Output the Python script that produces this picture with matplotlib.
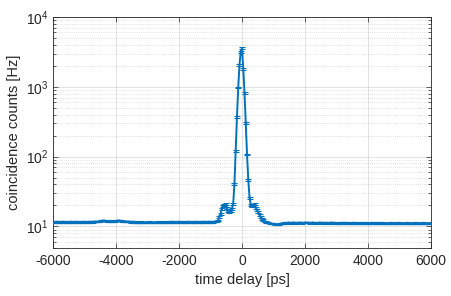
import numpy as np
import matplotlib
matplotlib.use("Agg")
import matplotlib.pyplot as plt
from matplotlib.ticker import LogLocator, NullFormatter

plt.rcParams['font.family'] = ['Liberation Sans', 'DejaVu Sans']
plt.rcParams['mathtext.fontset'] = 'custom'
plt.rcParams['mathtext.rm'] = 'Liberation Sans'
plt.rcParams['mathtext.it'] = 'Liberation Sans'
plt.rcParams['axes.unicode_minus'] = False

# ---- data (40 ps bins) ----
time_start_ps = -6000
time_stop_ps = 6000
bin_ps = 40

counts_left_base = [
    11.6, 11.5, 11.6, 11.7, 11.5, 11.6, 11.5, 11.6, 11.7, 11.6,
    11.5, 11.6, 11.6, 11.5, 11.7, 11.6, 11.5, 11.6, 11.6, 11.7,
    11.5, 11.6, 11.6, 11.5, 11.6, 11.7, 11.6, 11.5, 11.6, 11.7,
    11.6, 11.7, 11.6, 11.7, 11.8, 11.7, 11.8, 11.9, 12.0, 12.1,
    12.2, 12.1, 12.0, 11.9, 11.8, 11.9, 12.0, 11.9, 11.8, 11.9,
    12.0, 12.1, 12.2, 12.1, 12.0, 11.9, 11.8, 11.9, 11.8, 11.7,
    11.8, 11.7, 11.6, 11.7, 11.6, 11.5, 11.6, 11.5, 11.4, 11.5,
    11.6, 11.5, 11.4, 11.5, 11.4, 11.5, 11.6, 11.5, 11.4, 11.5,
    11.5, 11.4, 11.5, 11.6, 11.5, 11.4, 11.5, 11.6, 11.5, 11.4,
    11.5, 11.6, 11.5, 11.6, 11.7, 11.6, 11.5, 11.6, 11.5, 11.6,
    11.7, 11.6, 11.5, 11.6, 11.5, 11.6, 11.5, 11.6, 11.7, 11.6,
    11.5, 11.6, 11.5, 11.6, 11.7, 11.6, 11.5, 11.6, 11.5, 11.6,
    11.7, 11.6, 11.5, 11.6, 11.7, 11.6, 11.5, 11.6, 11.7, 11.8,
]

counts_peak = [
    11.7, 12.2, 13.6, 15.2, 17.9, 19.5, 20.5, 20.7, 18.5, 16.6,
    16.3, 16.9, 17.9, 21.2, 40.7, 122, 369, 977, 2060, 3190,
    3575,
    1790, 813, 303, 107, 46, 25.8, 20.5, 19.8, 20.5, 21.0,
    18.5, 17.0, 16.0, 14.5, 13.5, 12.9, 12.3, 11.9, 11.6, 11.4,
]

counts_right_base = [
    11.3, 11.2, 11.1, 11.0, 10.9, 10.8, 10.8, 10.7, 10.8, 10.9, 11.0, 11.1,
    11.2, 11.3, 11.2, 11.3, 11.4, 11.3, 11.2, 11.3, 11.4, 11.3, 11.2, 11.3,
    11.3, 11.4, 11.3, 11.2, 11.3, 11.4, 11.3, 11.4, 11.3, 11.2, 11.3, 11.4,
    11.3, 11.2, 11.3, 11.2, 11.3, 11.4, 11.3, 11.2, 11.3, 11.3, 11.2, 11.3,
    11.2, 11.3, 11.4, 11.3, 11.2, 11.3, 11.2, 11.1, 11.2, 11.3, 11.2, 11.3,
    11.2, 11.3, 11.2, 11.3, 11.2, 11.1, 11.2, 11.3, 11.2, 11.3, 11.2, 11.1,
    11.2, 11.3, 11.2, 11.1, 11.2, 11.3, 11.2, 11.1, 11.2, 11.2, 11.3, 11.2,
    11.1, 11.2, 11.3, 11.2, 11.1, 11.2, 11.3, 11.2, 11.1, 11.2, 11.2, 11.1,
    11.2, 11.3, 11.2, 11.1, 11.2, 11.1, 11.2, 11.3, 11.2, 11.1, 11.2, 11.2,
    11.1, 11.2, 11.3, 11.2, 11.1, 11.2, 11.1, 11.2, 11.3, 11.2, 11.1, 11.2,
    11.2, 11.1, 11.2, 11.3, 11.2, 11.1, 11.2, 11.1, 11.2, 11.2,
]

err_left_base = [
    0.2, 0.2, 0.2, 0.2, 0.2, 0.2, 0.2, 0.2, 0.2, 0.2,
    0.2, 0.2, 0.2, 0.2, 0.2, 0.2, 0.2, 0.2, 0.2, 0.2,
    0.2, 0.2, 0.2, 0.2, 0.2, 0.2, 0.2, 0.2, 0.2, 0.2,
    0.2, 0.2, 0.2, 0.2, 0.2, 0.2, 0.2, 0.2, 0.2, 0.2,
    0.2, 0.2, 0.2, 0.2, 0.2, 0.2, 0.2, 0.2, 0.2, 0.2,
    0.2, 0.2, 0.2, 0.2, 0.2, 0.2, 0.2, 0.2, 0.2, 0.2,
    0.2, 0.2, 0.2, 0.2, 0.2, 0.2, 0.2, 0.2, 0.2, 0.2,
    0.2, 0.2, 0.2, 0.2, 0.2, 0.2, 0.2, 0.2, 0.2, 0.2,
    0.2, 0.2, 0.2, 0.2, 0.2, 0.2, 0.2, 0.2, 0.2, 0.2,
    0.2, 0.2, 0.2, 0.2, 0.2, 0.2, 0.2, 0.2, 0.2, 0.2,
    0.2, 0.2, 0.2, 0.2, 0.2, 0.2, 0.2, 0.2, 0.2, 0.2,
    0.2, 0.2, 0.2, 0.2, 0.2, 0.2, 0.2, 0.2, 0.2, 0.2,
    0.2, 0.2, 0.2, 0.2, 0.2, 0.2, 0.2, 0.2, 0.2, 0.25,
]

err_peak = [
    0.25, 0.3, 0.4, 0.5, 0.6, 0.65, 0.7, 0.7, 0.65, 0.6,
    0.6, 0.6, 0.6, 0.7, 1.2, 3.5, 10, 25, 55, 95,
    140,
    50, 22, 8, 3, 1.3, 0.8, 0.65, 0.65, 0.7, 0.7,
    0.6, 0.55, 0.5, 0.45, 0.4, 0.35, 0.3, 0.25, 0.2, 0.2,
]

err_right_base = [
    0.2, 0.2, 0.2, 0.2, 0.2, 0.2, 0.2, 0.2, 0.2, 0.2,
    0.2, 0.2, 0.2, 0.2, 0.2, 0.2, 0.2, 0.2, 0.2, 0.2,
    0.2, 0.2, 0.2, 0.2, 0.2, 0.2, 0.2, 0.2, 0.2, 0.2,
    0.2, 0.2, 0.2, 0.2, 0.2, 0.2, 0.2, 0.2, 0.2, 0.2,
    0.2, 0.2, 0.2, 0.2, 0.2, 0.2, 0.2, 0.2, 0.2, 0.2,
    0.2, 0.2, 0.2, 0.2, 0.2, 0.2, 0.2, 0.2, 0.2, 0.2,
    0.2, 0.2, 0.2, 0.2, 0.2, 0.2, 0.2, 0.2, 0.2, 0.2,
    0.2, 0.2, 0.2, 0.2, 0.2, 0.2, 0.2, 0.2, 0.2, 0.2,
    0.2, 0.2, 0.2, 0.2, 0.2, 0.2, 0.2, 0.2, 0.2, 0.2,
    0.2, 0.2, 0.2, 0.2, 0.2, 0.2, 0.2, 0.2, 0.2, 0.2,
    0.2, 0.2, 0.2, 0.2, 0.2, 0.2, 0.2, 0.2, 0.2, 0.2,
    0.2, 0.2, 0.2, 0.2, 0.2, 0.2, 0.2, 0.2, 0.2, 0.2,
    0.2, 0.2, 0.2, 0.2, 0.2, 0.2, 0.2, 0.2, 0.2, 0.2,
]

x_ticks = [-6000, -4000, -2000, 0, 2000, 4000, 6000]
x_label = "time delay [ps]"
y_label = "coincidence counts [Hz]"

time_ps = np.arange(time_start_ps, time_stop_ps + bin_ps, bin_ps)
counts = np.array(counts_left_base + counts_peak + counts_right_base)
errors = np.array(err_left_base + err_peak + err_right_base)

# ---- figure ----
W, H = 452, 296
fig = plt.figure(figsize=(W / 100, H / 100), dpi=100)
left, right, top, bottom = 53, 431, 17, 247.5
ax = fig.add_axes([left / W, 1 - bottom / H, (right - left) / W, (bottom - top) / H])

blue = '#0072BD'
ax.errorbar(time_ps, counts, yerr=errors, color=blue, lw=1.4,
            elinewidth=0.8, capsize=2.0, capthick=0.8, zorder=3)

ax.set_yscale('log')
ax.set_xlim(-6000, 6000)
ax.set_ylim(5, 1e4)
ax.set_xticks(x_ticks)
ax.set_xticklabels([str(v) for v in x_ticks])
ax.yaxis.set_major_locator(LogLocator(base=10, numticks=10))
ax.yaxis.set_minor_locator(LogLocator(base=10, subs=np.arange(2, 10), numticks=20))
ax.yaxis.set_minor_formatter(NullFormatter())

dark = '#262626'
for s in ax.spines.values():
    s.set_color(dark)
    s.set_linewidth(0.6)
ax.tick_params(which='both', direction='in', top=True, right=True,
               colors=dark, labelsize=10, width=0.5)
ax.tick_params(which='major', length=3.5)
ax.tick_params(which='minor', length=2)
ax.tick_params(axis='x', which='minor', bottom=False, top=False)
ax.tick_params(axis='x', pad=5)
ax.tick_params(axis='y', pad=3)

ax.grid(which='major', axis='both', color=dark, alpha=0.15, lw=0.6, ls='-')
ax.grid(which='minor', axis='y', color=dark, alpha=0.25, lw=0.5, ls=(0, (1, 2)))
ax.set_axisbelow(True)

ax.set_xlabel(x_label, fontsize=10.5, color=dark, labelpad=3)
ax.set_ylabel(y_label, fontsize=10.5, color=dark, labelpad=4)

fig.savefig('out.png', dpi=100)
